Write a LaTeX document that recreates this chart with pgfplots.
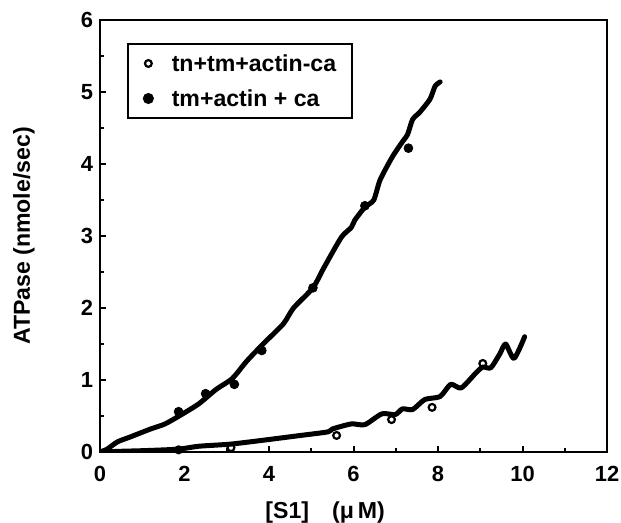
\documentclass[border=0pt]{standalone}
\usepackage{fontspec}
\setmainfont{Liberation Sans}
\usepackage{pgfplots}
\pgfplotsset{compat=1.18}
\begin{document}
\begin{tikzpicture}
\begin{axis}[
  scale only axis, width=253.5bp, height=216bp,
  xmin=0, xmax=12, ymin=0, ymax=6,
  xtick={0,2,...,12}, ytick={0,1,...,6},
  minor x tick num=1, minor y tick num=1,
  tick pos=left, tick align=inside,
  axis line style={line width=1.2bp},
  major tick length=3bp, minor tick length=2bp,
  every tick/.style={line width=1bp, black},
  ticklabel style={font=\bfseries\fontsize{11}{13}\selectfont},
  xticklabel style={yshift=-3.5bp},
  /pgf/number format/assume math mode=true,
  xlabel={[S1]\quad(μ\,M)},
  ylabel={ATPase (nmole/sec)},
  xlabel style={at={(axis description cs:0.444,-0.139)}, anchor=center},
  ylabel style={at={(axis description cs:-0.15,0.5)}, anchor=center},
  label style={font=\bfseries\fontsize{11.6}{13}\selectfont},
  legend style={at={(0.053,0.947)}, anchor=north west, draw=black, line width=1.1bp,
    font=\bfseries\fontsize{11.6}{13}\selectfont, inner xsep=8bp, inner ysep=5bp,
    nodes={inner sep=0pt, text height=9bp, text depth=0.5bp},
    row sep=8bp, column sep=9.5bp},
  legend cell align=left,
]
\addplot[only marks, mark=o, mark size=1.7bp, mark options={line width=1.1bp, fill=white, draw=black}]
  coordinates {(1.86,0.03) (3.1,0.06) (5.6,0.23) (6.9,0.45) (7.86,0.62) (9.06,1.23)};
\addlegendentry{tn+tm+actin-ca}
\addplot[only marks, mark=*, mark size=2.2bp, mark options={fill=black, draw=black}]
  coordinates {(1.86,0.56) (2.5,0.81) (3.18,0.94) (3.83,1.41) (5.04,2.28) (6.27,3.42) (7.3,4.22)};
\addlegendentry{tm+actin + ca}
\addplot[forget plot, black, line width=2.5bp, smooth, tension=0.4, line join=round, line cap=round]
  coordinates {(0,0) (0.17,0.04) (0.41,0.14) (0.72,0.21) (1.2,0.32) (1.54,0.39) (1.93,0.52)
  (2.34,0.67) (2.75,0.87) (3.13,1.02) (3.47,1.26) (3.86,1.5) (4.34,1.78) (4.58,2.0)
  (5.04,2.28) (5.3,2.56) (5.71,2.98) (5.95,3.12) (6.03,3.22) (6.27,3.4) (6.48,3.5)
  (6.63,3.78) (6.92,4.1) (7.16,4.31) (7.28,4.41) (7.4,4.62) (7.57,4.72) (7.81,4.9)
  (7.93,5.08) (8.05,5.14)};
\addplot[forget plot, black, line width=2.5bp, smooth, tension=0.4, line join=round, line cap=round]
  coordinates {(0,0) (0.5,0.01) (1.1,0.02) (1.86,0.04) (2.34,0.08) (3.1,0.11) (3.95,0.17)
  (4.75,0.23) (5.4,0.28) (5.5,0.32) (5.95,0.39) (6.27,0.38) (6.67,0.53) (6.99,0.52)
  (7.16,0.6) (7.4,0.59) (7.69,0.73) (8.05,0.77) (8.3,0.94) (8.55,0.89) (8.9,1.1)
  (9.06,1.18) (9.25,1.17) (9.46,1.36) (9.6,1.5) (9.8,1.3) (10.05,1.6)};
\end{axis}
\pgfresetboundingbox
\path[use as bounding box] (current axis.south west) ++(-50bp,-35.5bp) rectangle ++(310.5bp,261.5bp);
\end{tikzpicture}
\end{document}
